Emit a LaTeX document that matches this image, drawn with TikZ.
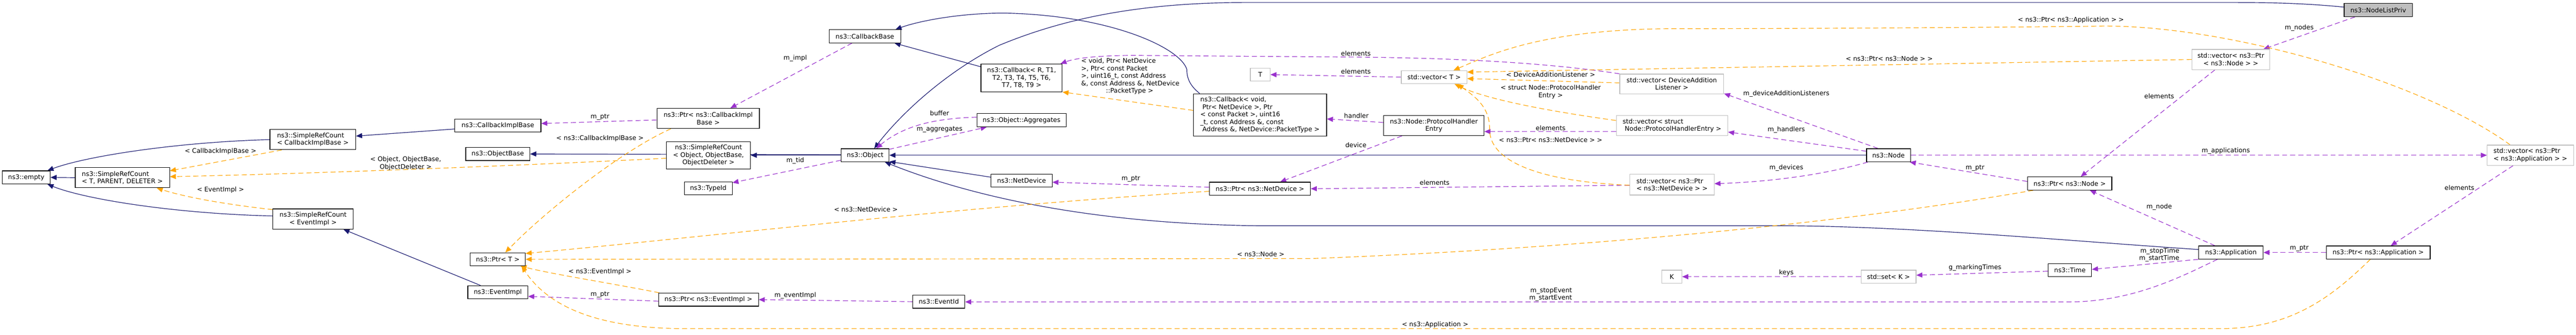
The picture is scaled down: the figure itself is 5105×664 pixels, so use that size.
\documentclass[tikz,border=0pt]{standalone}
\usepackage{fontspec}
\setmainfont{DejaVu Sans}
\usetikzlibrary{arrows.meta,calc}
\pgfdeclarelayer{edgelayer}
\pgfsetlayers{edgelayer,main}
\definecolor{inhblue}{HTML}{191970}
\definecolor{usepurple}{HTML}{9A32CD}
\definecolor{tplorange}{HTML}{FFA500}
\definecolor{undocgray}{HTML}{BFBFBF}
\newcommand{\dxfont}{\fontsize{12.7pt}{14.8pt}\selectfont}
\begin{document}
\begin{tikzpicture}[x=1pt,y=-1pt,
  docbox/.style={draw=black, line width=1.2pt, fill=white, inner sep=0pt, font=\dxfont, align=center, minimum height=26pt},
  undocbox/.style={docbox, draw=undocgray},
  lbl/.style={font=\dxfont, inner sep=0pt, align=center},
  inhedge/.style={draw=inhblue, line width=1.2pt, -{Triangle[length=12pt,width=10pt]}},
  useedge/.style={draw=usepurple, line width=1.2pt, dash pattern=on 10pt off 6pt, -{Triangle[length=12pt,width=10pt]}},
  tpledge/.style={draw=tplorange, line width=1.2pt, dash pattern=on 10pt off 6pt, -{Triangle[length=12pt,width=10pt]}},
]
\useasboundingbox (0,0) rectangle (5105,664);

% ---------- nodes ----------
\node[docbox, minimum width=95pt] (empty) at (52,352) {ns3::empty};
\node[docbox, minimum width=187pt, minimum height=40pt, align=left] (srcTPD) at (242.5,352.5) {ns3::SimpleRefCount\\< T, PARENT, DELETER >};
\node[docbox, minimum width=170pt, minimum height=40pt, align=left] (srcCIB) at (620,277) {ns3::SimpleRefCount\\< CallbackImplBase >};
\node[docbox, minimum width=159pt, minimum height=40pt] (srcEI) at (620.5,434.5) {ns3::SimpleRefCount\\< EventImpl >};
\node[docbox, minimum width=171pt] (cib) at (986.5,249) {ns3::CallbackImplBase};
\node[docbox, minimum width=127pt] (objbase) at (986.5,305.5) {ns3::ObjectBase};
\node[docbox, minimum width=109pt] (ptrT) at (986.5,514.5) {ns3::Ptr< T >};
\node[docbox, minimum width=119pt] (eventimpl) at (986.5,580) {ns3::EventImpl};
\node[docbox, minimum width=203pt, minimum height=40pt] (ptrCIB) at (1403.5,235) {ns3::Ptr< ns3::CallbackImpl\\Base >};
\node[docbox, minimum width=166pt, minimum height=54pt] (srcOOB) at (1404,308) {ns3::SimpleRefCount\\< Object, ObjectBase,\\ObjectDeleter >};
\node[docbox, minimum width=95pt] (typeid) at (1403.5,373.5) {ns3::TypeId};
\node[docbox, minimum width=198pt] (ptrEI) at (1404,594.5) {ns3::Ptr< ns3::EventImpl >};
\node[docbox, minimum width=142pt] (callbackbase) at (1714,72) {ns3::CallbackBase};
\node[docbox, minimum width=95pt] (object) at (1714.5,308) {ns3::Object};
\node[docbox, minimum width=103pt] (eventid) at (1860.5,598.5) {ns3::EventId};
\node[docbox, minimum width=161pt, minimum height=55pt] (callbackR) at (2024.5,154.5) {ns3::Callback< R, T1,\\T2, T3, T4, T5, T6,\\T7, T8, T9 >};
\node[docbox, minimum width=177pt] (aggregates) at (2024.5,238.5) {ns3::Object::Aggregates};
\node[docbox, minimum width=121pt] (netdevice) at (2024.5,358.5) {ns3::NetDevice};
\node[undocbox, minimum width=39pt] (T) at (2497.5,148) {T};
\node[docbox, minimum width=264pt, minimum height=84pt, align=left] (callbackV) at (2497,228) {ns3::Callback< void,\\\hspace*{4pt}Ptr< NetDevice >, Ptr\\< const Packet >, uint16\\\_t, const Address \&, const\\\hspace*{4pt}Address \&, NetDevice::PacketType >};
\node[docbox, minimum width=200pt] (ptrND) at (2497,374.5) {ns3::Ptr< ns3::NetDevice >};
\node[undocbox, minimum width=130pt] (vecT) at (2842,153) {std::vector< T >};
\node[docbox, minimum width=199pt, minimum height=40pt] (phe) at (2841.5,249) {ns3::Node::ProtocolHandler\\Entry};
\node[undocbox, minimum width=206pt, minimum height=39pt] (vecDAL) at (3313,166.5) {std::vector< DeviceAddition\\Listener >};
\node[undocbox, minimum width=221pt, minimum height=40pt, align=left] (vecPHE) at (3313.5,249) {std::vector< struct\\\hspace*{4pt}Node::ProtocolHandlerEntry >};
\node[undocbox, minimum width=167pt, minimum height=41pt, align=left] (vecND) at (3313.5,366.5) {std::vector< ns3::Ptr\\< ns3::NetDevice > >};
\node[undocbox, minimum width=40pt] (K) at (3313,549) {K};
\node[docbox, minimum width=87pt] (nsnode) at (3742.5,308) {ns3::Node};
\node[undocbox, minimum width=109pt] (setK) at (3742.5,549) {std::set< K >};
\node[undocbox, minimum width=154pt, minimum height=40pt] (vecNode) at (4421,118) {std::vector< ns3::Ptr\\< ns3::Node > >};
\node[docbox, minimum width=167pt] (ptrNode) at (4101.5,364) {ns3::Ptr< ns3::Node >};
\node[docbox, minimum width=86pt] (time) at (4102,536) {ns3::Time};
\node[docbox, minimum width=128pt] (application) at (4421,501) {ns3::Application};
\node[docbox, minimum width=135pt, fill=undocgray] (nodelistpriv) at (4713,20) {ns3::NodeListPriv};
\node[undocbox, minimum width=171pt, minimum height=40pt, align=left] (vecApp) at (5014.5,308) {std::vector< ns3::Ptr\\< ns3::Application > >};
\node[docbox, minimum width=206pt] (ptrApp) at (4713,501) {ns3::Ptr< ns3::Application >};

% ---------- labels ----------
\node[lbl] (l01) at (437,300) {< CallbackImplBase >};
\node[lbl] (l02) at (437,377) {< EventImpl >};
\node[lbl] (l03) at (804,324) {< Object, ObjectBase,\\ObjectDeleter >};
\node[lbl] (l04) at (1189,232) {m\_ptr};
\node[lbl] (l05) at (1189,275) {< ns3::CallbackImplBase >};
\node[lbl] (l06) at (1189,539) {< ns3::EventImpl >};
\node[lbl] (l07) at (1189,585) {m\_ptr};
\node[lbl] (l08) at (1576,116) {m\_impl};
\node[lbl] (l09) at (1576,319) {m\_tid};
\node[lbl] (l10) at (1576,586.5) {m\_eventImpl};
\node[lbl] (l11) at (1716,415) {< ns3::NetDevice >};
\node[lbl] (l12) at (1862,224.5) {buffer};
\node[lbl] (l13) at (1862,256.6) {m\_aggregates};
\node[lbl, align=left, anchor=west] (l14) at (2142.5,151.5) {< void, Ptr< NetDevice\\>, Ptr< const Packet\\>, uint16\_t, const Address\\\&, const Address \&, NetDevice\\\hspace*{49pt}::PacketType >};
\node[lbl] (l15) at (2241,354.5) {m\_ptr};
\node[lbl] (l16) at (2687,106) {elements};
\node[lbl] (l17) at (2687,142) {elements};
\node[lbl] (l18) at (2688,230) {handler};
\node[lbl] (l19) at (2687,288) {device};
\node[lbl] (l20) at (2498.5,504) {< ns3::Node >};
\node[lbl] (l21) at (3073,148) {< DeviceAdditionListener >};
\node[lbl] (l22) at (3073,182.5) {< struct Node::ProtocolHandler\\Entry >};
\node[lbl] (l23) at (3073,254) {elements};
\node[lbl] (l24) at (3073,278) {< ns3::Ptr< ns3::NetDevice > >};
\node[lbl] (l25) at (2843,362) {elements};
\node[lbl, align=right] (l26) at (3073,584.5) {m\_stopEvent\\m\_startEvent};
\node[lbl] (l27) at (2844,644) {< ns3::Application >};
\node[lbl] (l28) at (3744,116.5) {< ns3::Ptr< ns3::Node > >};
\node[lbl] (l29) at (3540,186) {m\_deviceAdditionListeners};
\node[lbl] (l30) at (3540,258) {m\_handlers};
\node[lbl] (l31) at (3540,333) {m\_devices};
\node[lbl] (l32) at (3540,541) {keys};
\node[lbl] (l33) at (3914,333) {m\_ptr};
\node[lbl] (l34) at (3914,531.5) {g\_markingTimes};
\node[lbl] (l35) at (4104,40) {< ns3::Ptr< ns3::Application > >};
\node[lbl] (l36) at (4279,190.6) {elements};
\node[lbl] (l37) at (4411,299) {m\_applications};
\node[lbl] (l38) at (4279,411) {m\_node};
\node[lbl, align=right] (l39) at (4279,505.7) {m\_stopTime\\m\_startTime};
\node[lbl] (l40) at (4556.5,55.5) {m\_nodes};
\node[lbl] (l41) at (4874,372.7) {elements};
\node[lbl] (l42) at (4556.5,492.5) {m\_ptr};

% ---------- edges ----------
\begin{pgfonlayer}{edgelayer}
\fill[white] (0,0) rectangle (5105,664);
% inheritance
\draw[inhedge] (srcCIB.west) .. controls (350,282) and (170,310) .. ($(empty.north east)+(-6,0)$);
\draw[inhedge] (srcTPD.west) -- (empty.east);
\draw[inhedge] ($(srcEI.west)+(0,-6)$) .. controls (350,424) and (170,396) .. ($(empty.south east)+(-6,0)$);
\draw[inhedge] ($(cib.west)+(0,7)$) -- ($(srcCIB.east)+(0,-7)$);
\draw[inhedge] ($(eventimpl.north)+(-34,0)$) -- ($(srcEI.south east)+(-20,0)$);
\draw[inhedge] (object.west) -- (srcOOB.east);
\draw[inhedge] ($(object.west)+(0,-1)$) -- (objbase.east);
\draw[inhedge] ($(callbackR.north west)+(0,6)$) -- ($(callbackbase.south east)+(-13,0)$);
\draw[inhedge] ($(callbackV.north west)+(13,0)$) .. controls (2358,170) and (2352,155) .. (2352,138) .. controls (2340,95) and (2200,30) .. (1990,26) .. controls (1900,26) and (1820,42) .. ($(callbackbase.north east)+(-11,0)$);
\draw[inhedge] ($(nodelistpriv.west)+(0,-6)$) .. controls (4560,6) and (4500,5) .. (4420,5) -- (2468,5) .. controls (2250,5) and (2100,40) .. (1980,90) .. controls (1880,140) and (1790,220) .. ($(object.north)+(18,0)$);
\draw[inhedge] ($(netdevice.west)+(0,-7)$) -- ($(object.south east)+(0,-1)$);
\draw[inhedge] (nsnode.west) -- (object.east);
\draw[inhedge] ($(application.west)+(0,-6)$) .. controls (4100,478) and (3800,450) .. (3550,448) -- (2500,448) .. controls (2200,445) and (1950,400) .. ($(object.south east)+(-9,0)$);
% usage
\draw[useedge] ($(ptrCIB.west)+(0,3)$) -- ($(cib.east)+(0,-4)$);
\draw[useedge] ($(callbackbase.south west)+(46,0)$) -- ($(ptrCIB.north)+(44,0)$);
\draw[useedge] ($(object.west)+(0,10)$) -- ($(typeid.east)+(0,-11)$);
\draw[useedge] ($(ptrEI.west)+(0,3)$) -- ($(eventimpl.east)+(0,8)$);
\draw[useedge] (eventid.west) -- (ptrEI.east);
\draw[useedge] ($(aggregates.west)+(0,-6)$) .. controls (1850,235) and (1790,250) .. ($(object.north)+(22,0)$);
\draw[useedge] ($(object.north east)+(-1,2)$) -- ($(aggregates.south west)+(20,0)$);
\draw[useedge] ($(phe.west)+(0,-6)$) -- ($(callbackV.east)+(0,8)$);
\draw[useedge] ($(phe.south west)+(37,0)$) -- ($(ptrND.north)+(40,0)$);
\draw[useedge] ($(ptrND.west)+(0,-3)$) -- ($(netdevice.east)+(0,3)$);
\draw[useedge] (vecDAL.north west) .. controls (3050,122) and (2850,114) .. (2650,113) -- (2250,110) .. controls (2170,110) and (2130,116) .. ($(callbackR.north east)+(-4,0)$);
\draw[useedge] (vecT.west) -- (T.east);
\draw[useedge] ($(vecPHE.west)+(0,12)$) -- ($(phe.east)+(0,12)$);
\draw[useedge] ($(vecND.west)+(0,1)$) -- (ptrND.east);
\draw[useedge] ($(nsnode.north)+(-21,0)$) -- ($(vecDAL.south east)+(0,-1)$);
\draw[useedge] ($(nsnode.west)+(0,-8)$) -- ($(vecPHE.east)+(0,13)$);
\draw[useedge] ($(nsnode.south west)+(3,0)$) .. controls (3620,345) and (3520,360) .. ($(vecND.east)+(0,-2)$);
\draw[useedge] (setK.west) -- (K.east);
\draw[useedge] (nsnode.east) -- (vecApp.west);
\draw[useedge] ($(ptrNode.west)+(0,-4)$) -- ($(nsnode.south east)+(-2,0)$);
\draw[useedge] ($(vecNode.south west)+(46,0)$) -- ($(ptrNode.north)+(22,0)$);
\draw[useedge] ($(application.north west)+(33,0)$) -- ($(ptrNode.south)+(40,0)$);
\draw[useedge] (application.south west) -- ($(time.east)+(0,-1.5)$);
\draw[useedge] ($(time.west)+(0,2)$) -- ($(setK.east)+(0,-3)$);
\draw[useedge] ($(application.south west)+(38,0)$) .. controls (4330,545) and (4230,599) .. (4100,599) -- ($(eventid.east)+(0,0.5)$);
\draw[useedge] ($(nodelistpriv.south west)+(22,0)$) -- ($(vecNode.north east)+(-13,0)$);
\draw[useedge] ($(vecApp.south west)+(52,0)$) -- ($(ptrApp.north)+(25,0)$);
\draw[useedge] (ptrApp.west) -- (application.east);
% templates
\draw[tpledge] ($(srcCIB.south west)+(24,0)$) -- ($(srcTPD.north east)+(0,7)$);
\draw[tpledge] ($(srcOOB.west)+(0,6)$) .. controls (1000,330) and (600,345) .. ($(srcTPD.east)+(0,-2)$);
\draw[tpledge] ($(srcEI.north west)+(0,2)$) .. controls (470,408) and (380,395) .. ($(srcTPD.south east)+(-26,0)$);
\draw[tpledge] ($(ptrCIB.south west)+(28,0)$) .. controls (1230,300) and (1080,420) .. ($(ptrT.north)+(15,0)$);
\draw[tpledge] ($(ptrEI.north west)+(2,0)$) .. controls (1200,560) and (1100,545) .. ($(ptrT.south east)+(-10,0)$);
\draw[tpledge] ($(ptrND.west)+(0,5)$) .. controls (1900,410) and (1400,470) .. ($(ptrT.north east)+(0,2)$);
\draw[tpledge] ($(ptrNode.south west)+(12,0)$) .. controls (3700,435) and (3200,490) .. (2600,513) -- (ptrT.east);
\draw[tpledge] ($(ptrApp.south west)+(88,0)$) .. controls (4620,590) and (4540,652) .. (4400,652) -- (1350,652) .. controls (1150,650) and (1075,590) .. ($(ptrT.south east)+(-8,0)$);
\draw[tpledge] ($(callbackV.west)+(0,-9)$) -- (callbackR.south east);
\draw[tpledge] ($(vecApp.north)+(-40,0)$) .. controls (4800,160) and (4400,45) .. (4150,52) .. controls (3900,55) and (3500,57) .. (3300,57) .. controls (3050,60) and (2950,110) .. ($(vecT.north east)+(-27,0)$);
\draw[tpledge] (vecNode.west) -- ($(vecT.east)+(0,-10)$);
\draw[tpledge] ($(vecDAL.west)+(0,-2)$) -- ($(vecT.east)+(0,3)$);
\draw[tpledge] ($(vecPHE.west)+(0,-10)$) .. controls (3100,225) and (2950,200) .. ($(vecT.south east)+(-25,0)$);
\draw[tpledge] ($(vecND.west)+(0,1)$) .. controls (3050,360) and (2950,320) .. (2952,255) .. controls (2952,210) and (2920,190) .. ($(vecT.south east)+(-19,0)$);
\end{pgfonlayer}
\end{tikzpicture}
\end{document}
